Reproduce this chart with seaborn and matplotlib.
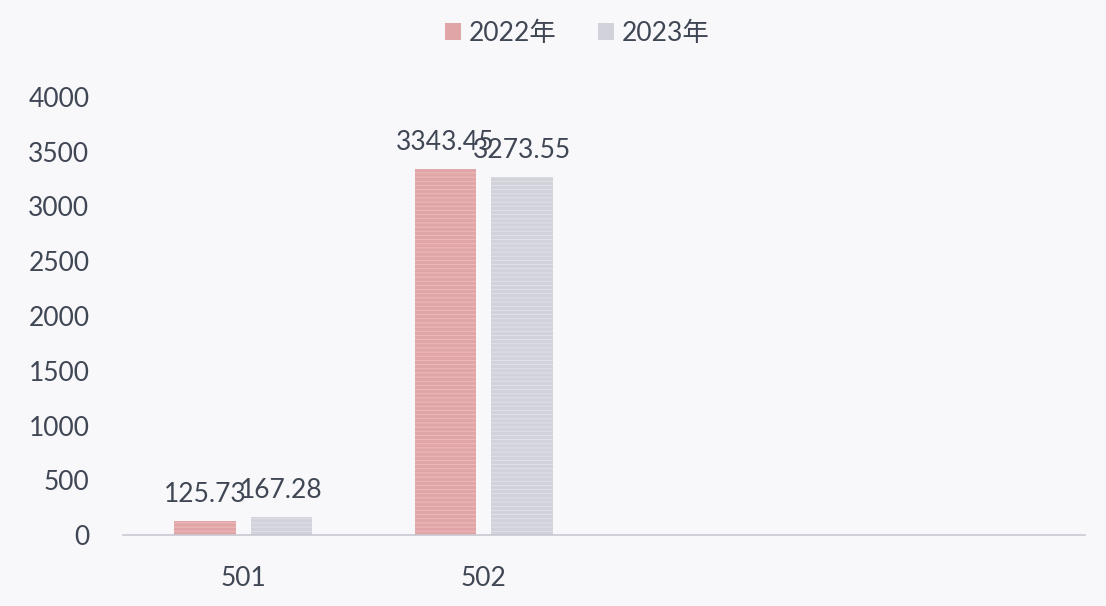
import matplotlib
matplotlib.use("Agg")
import matplotlib.pyplot as plt
import seaborn as sns
import pandas as pd

categories = ["501", "502"]
years = ["2022年", "2023年"]
values_2022 = [125.73, 3343.45]
values_2023 = [167.28, 3273.55]
y_ticks = [0, 500, 1000, 1500, 2000, 2500, 3000, 3500, 4000]

df = pd.DataFrame({
    "cat": categories * 2,
    "year": [years[0]] * 2 + [years[1]] * 2,
    "value": values_2022 + values_2023,
})

sns.set_theme(style="white")
plt.rcParams["font.family"] = ["Lato", "Noto Sans CJK SC", "DejaVu Sans"]
plt.rcParams["hatch.linewidth"] = 0.6

bg = "#f8f8fa"
txt = "#3f4654"
colors = {years[0]: "#ea9c9e", years[1]: "#d0d0dd"}

fig = plt.figure(figsize=(11.06, 6.06), dpi=100, facecolor=bg)
ax = fig.add_axes([0.111, 0.117, 0.870, 0.723])
ax.set_facecolor(bg)

sns.barplot(data=df, x="cat", y="value", hue="year", order=categories,
            hue_order=years, palette=colors, width=0.636, gap=0.195,
            ax=ax, legend=True, linewidth=0)

hatch_cols = ["#f2bcbd", "#e3e3ec"]
for i, cont in enumerate(ax.containers):
    for bar in cont:
        bar.set_hatch("----")
        bar.set_edgecolor(hatch_cols[i])
        bar.set_linewidth(0)
    ax.bar_label(cont, labels=[f"{v:.2f}" for v in cont.datavalues],
                 padding=10, fontsize=19, color=txt)

ax.set_xlim(-0.5, 3.5)
ax.set_ylim(0, 4000)
ax.set_yticks(y_ticks)
ax.set_yticklabels([str(t) for t in y_ticks])
ax.tick_params(axis="y", length=0, pad=24, labelsize=19, labelcolor=txt)
ax.tick_params(axis="x", length=0, pad=22, labelsize=19, labelcolor=txt)
ax.set_xlabel("")
ax.set_ylabel("")
for s in ["top", "right", "left"]:
    ax.spines[s].set_visible(False)
ax.spines["bottom"].set_color("#c9c9d2")
ax.spines["bottom"].set_linewidth(1.2)

leg = ax.get_legend()
handles = leg.legend_handles
leg.remove()
fig.legend(handles, years, loc="center", bbox_to_anchor=(0.522, 0.945), ncol=2,
           frameon=False, fontsize=19, handlelength=0.6, handleheight=0.6,
           handletextpad=0.3, columnspacing=1.6, labelcolor=txt)

fig.savefig("out.png", dpi=100, facecolor=bg)
